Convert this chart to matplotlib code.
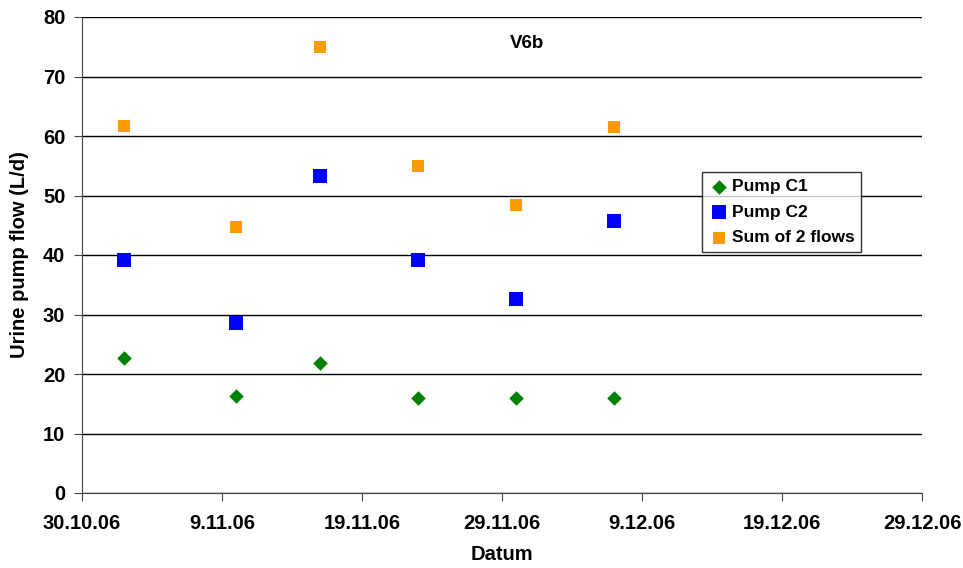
import matplotlib
matplotlib.use('Agg')
import matplotlib.pyplot as plt
import pandas as pd

dates = ['2006-11-02', '2006-11-10', '2006-11-16', '2006-11-23', '2006-11-30', '2006-12-07']
pump_c1 = [22.7, 16.3, 21.8, 16.0, 16.0, 16.0]
pump_c2 = [39.2, 28.6, 53.3, 39.2, 32.6, 45.7]
sum_flows = [61.7, 44.7, 75.0, 55.0, 48.4, 61.5]
x_ticks = ['2006-10-30', '2006-11-09', '2006-11-19', '2006-11-29', '2006-12-09', '2006-12-19', '2006-12-29']

plt.rcParams['font.family'] = ['Liberation Sans', 'DejaVu Sans']
plt.rcParams['font.weight'] = 'bold'

x = pd.to_datetime(dates)
fig = plt.figure(figsize=(9.63, 5.68), dpi=100)
ax = fig.add_axes([82/963, 1 - 493/568, 840/963, 476/568])

ax.scatter(x, pump_c1, marker='D', s=55, color='#008000', label='Pump C1', zorder=3, linewidths=0)
ax.scatter(x, pump_c2, marker='s', s=110, color='#0000FF', label='Pump C2', zorder=3, linewidths=0)
ax.scatter(x, sum_flows, marker='s', s=70, color='#FF9900', label='Sum of 2 flows', zorder=3, linewidths=0)

ticks = pd.to_datetime(x_ticks)
ax.set_xlim(ticks[0], ticks[-1])
ax.set_xticks(ticks)
ax.set_xticklabels([f'{t.day}.{t.month}.{t.strftime("%y")}' for t in ticks])
ax.set_ylim(0, 80)
ax.set_yticks(range(0, 81, 10))

ax.grid(axis='y', color='black', linewidth=1)
ax.set_axisbelow(True)
for s in ['top', 'right']:
    ax.spines[s].set_visible(False)
for s in ['left', 'bottom']:
    ax.spines[s].set_color('#444444')
ax.tick_params(direction='out', length=6, color='#444444', labelsize=14.5)
ax.tick_params(axis='x', pad=9)
ax.tick_params(axis='y', pad=6)
for lab in ax.get_xticklabels() + ax.get_yticklabels():
    lab.set_fontweight('bold')

ax.set_xlabel('Datum', fontsize=14.5, fontweight='bold', labelpad=9)
ax.set_ylabel('Urine pump flow (L/d)', fontsize=14.5, fontweight='bold', labelpad=10)
ax.text(0.53, 0.945, 'V6b', transform=ax.transAxes, fontsize=13.5, fontweight='bold', ha='center', va='center')

leg = ax.legend(loc='upper left', bbox_to_anchor=(702/963, 1 - 172/568), bbox_transform=fig.transFigure,
                borderaxespad=0, frameon=True, fancybox=False, edgecolor='black', fontsize=12.5,
                handletextpad=0.1, borderpad=0.4, labelspacing=0.6, handlelength=1.2, markerscale=1.0)
leg.get_frame().set_linewidth(1)
for t in leg.get_texts():
    t.set_fontweight('bold')

fig.savefig('out.png', dpi=100)
